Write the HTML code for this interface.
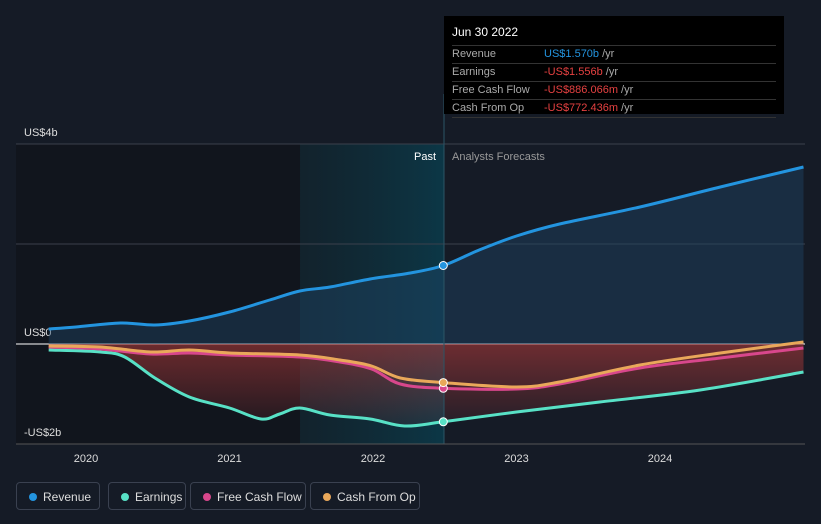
<!DOCTYPE html>
<html><head><meta charset="utf-8"><style>
body{margin:0;background:#151b26;width:821px;height:524px;overflow:hidden;font-family:"Liberation Sans",sans-serif}
#tip{position:absolute;left:444px;top:16px;width:340px;height:98px;background:#000;color:#fff;font-size:11px}
#tip .h{position:absolute;left:8px;top:9px;font-size:12px}
.r{position:absolute;left:8px;width:324px;height:17px;border-top:1px solid #333;color:#aaa;line-height:17px}
.r b{font-weight:normal;position:absolute;left:92px}
.leg{position:absolute;top:482px;height:28px;border:1px solid #3a4150;border-radius:4px;color:#ddd;font-size:12px;line-height:28px;box-sizing:border-box;padding-left:26px}
.leg i{position:absolute;left:12px;top:10px;width:8px;height:8px;border-radius:50%}
</style></head><body>
<svg id="c" width="821" height="524" style="position:absolute;left:0;top:0"></svg>
<div id="tip">
<div class="h">Jun 30 2022</div>
<div class="r" style="top:29px">Revenue<b><span style="color:#2394df">US$1.570b</span> /yr</b></div>
<div class="r" style="top:47px">Earnings<b><span style="color:#e64141">-US$1.556b</span> /yr</b></div>
<div class="r" style="top:65px">Free Cash Flow<b><span style="color:#e64141">-US$886.066m</span> /yr</b></div>
<div class="r" style="top:83px;border-bottom:1px solid #333">Cash From Op<b><span style="color:#e64141">-US$772.436m</span> /yr</b></div>
</div>
<div class="leg" style="left:16px;width:84px"><i style="background:#2394df"></i>Revenue</div>
<div class="leg" style="left:108px;width:78px"><i style="background:#58e1c6"></i>Earnings</div>
<div class="leg" style="left:190px;width:116px"><i style="background:#d8478c"></i>Free Cash Flow</div>
<div class="leg" style="left:310px;width:110px"><i style="background:#e9a85a"></i>Cash From Op</div>
<script>
const revT=[2019.74,2019.93,2020.24,2020.48,2020.72,2021.0,2021.28,2021.49,2021.7,2021.98,2022.26,2022.49,2022.74,2023.0,2023.3,2023.86,2024.42,2025.0];
const revV=[0.30,0.34,0.42,0.38,0.46,0.64,0.88,1.06,1.14,1.3,1.42,1.57,1.88,2.16,2.4,2.74,3.14,3.54];
const earnT=[2019.74,2020.1,2020.27,2020.48,2020.72,2021.0,2021.22,2021.35,2021.49,2021.7,2021.98,2022.22,2022.49,2023.0,2023.58,2024.28,2025.0];
const earnV=[-0.12,-0.16,-0.26,-0.68,-1.06,-1.28,-1.5,-1.4,-1.28,-1.42,-1.5,-1.64,-1.556,-1.36,-1.16,-0.92,-0.56];
const fcfT=[2019.74,2020.1,2020.45,2020.72,2021.0,2021.49,2021.77,2021.99,2022.19,2022.49,2023.0,2023.3,2023.86,2024.42,2025.0];
const fcfV=[-0.06,-0.1,-0.2,-0.18,-0.22,-0.26,-0.36,-0.5,-0.8,-0.886,-0.9,-0.8,-0.48,-0.28,-0.08];
const cfoT=[2019.74,2020.1,2020.45,2020.72,2021.0,2021.49,2021.77,2021.99,2022.19,2022.49,2023.0,2023.3,2023.86,2024.42,2025.0];
const cfoV=[-0.04,-0.06,-0.16,-0.12,-0.18,-0.22,-0.32,-0.44,-0.68,-0.772,-0.86,-0.76,-0.42,-0.18,0.04];
const yTicks=[4,0,-2];const yLabels=["US$4b","US$0","-US$2b"];
const xTicks=[2020,2021,2022,2023,2024];
const X=t=>86+(t-2020)*143.5, Y=v=>344-v*50;
const svg=document.getElementById('c');const NS='http://www.w3.org/2000/svg';
function el(tag,a,p){const e=document.createElementNS(NS,tag);for(const k in a)e.setAttribute(k,a[k]);(p||svg).appendChild(e);return e;}
function path(T,V){const p=T.map((t,i)=>[X(t),Y(V[i])]);let d='M'+p[0];for(let i=0;i<p.length-1;i++){const a=p[i-1]||p[i],b=p[i],c=p[i+1],e=p[i+2]||c;
d+=' C'+(b[0]+(c[0]-a[0])/6)+','+(b[1]+(c[1]-a[1])/6)+' '+(c[0]-(e[0]-b[0])/6)+','+(c[1]-(e[1]-b[1])/6)+' '+c;}return d;}
const defs=el('defs',{});
defs.innerHTML='<linearGradient id="pg" x1="0" x2="1"><stop offset="0" stop-color="#0f2a33" stop-opacity=".5"/><stop offset="1" stop-color="#0b3a4a" stop-opacity=".9"/></linearGradient><linearGradient id="rg" x1="0" y1="0" x2="0" y2="1"><stop offset="0" stop-color="#a83838" stop-opacity=".6"/><stop offset="1" stop-color="#a83838" stop-opacity=".1"/></linearGradient>';
const bg=el('rect',{x:16,y:144,width:284,height:300,fill:'#11151d'});
const pr=el('rect',{x:300,y:144,width:144,height:300,fill:'url(#pg)'});
yTicks.forEach((v,i)=>{const g=el('line',{x1:16,x2:805,y1:Y(v),y2:Y(v),stroke:v===0?'#fff':'#3a404c','stroke-width':1});
const t=el('text',{x:24,y:Y(v)-8,fill:'#ddd','font-size':11});t.textContent=yLabels[i];});
el('line',{x1:16,x2:805,y1:244,y2:244,stroke:'#3a404c'});
const ra=el('path',{d:path(revT,revV)+' L'+X(revT[revT.length-1])+','+Y(0)+' L'+X(revT[0])+','+Y(0)+'Z',fill:'#1e4466','fill-opacity':.45});
const ea=el('path',{d:path(earnT,earnV)+' L'+X(earnT[earnT.length-1])+','+Y(0)+' L'+X(earnT[0])+','+Y(0)+'Z',fill:'url(#rg)'});
el('line',{x1:444,x2:444,y1:94,y2:444,stroke:'#2b5566'});
const lp=el('text',{x:436,y:160,fill:'#fff','font-size':11,'text-anchor':'end'});lp.textContent='Past';
const lf=el('text',{x:452,y:160,fill:'#999','font-size':11});lf.textContent='Analysts Forecasts';
el('line',{x1:16,x2:805,y1:444,y2:444,stroke:'#555'});
xTicks.forEach(t=>{const e=el('text',{x:X(t),y:462,fill:'#ddd','font-size':11,'text-anchor':'middle'});e.textContent=t;});
[[revT,revV,'#2394df','revenue-line'],[earnT,earnV,'#58e1c6','earnings-line'],[fcfT,fcfV,'#d8478c','fcf-line'],[cfoT,cfoV,'#e9a85a','cfo-line']].forEach(([T,V,c,n])=>{
const p=el('path',{d:path(T,V),fill:'none',stroke:c,'stroke-width':3});
const i=T.indexOf(2022.49);const d=el('circle',{cx:X(T[i]),cy:Y(V[i]),r:4,fill:c,stroke:'#fff','stroke-width':1});});
</script></body></html>
